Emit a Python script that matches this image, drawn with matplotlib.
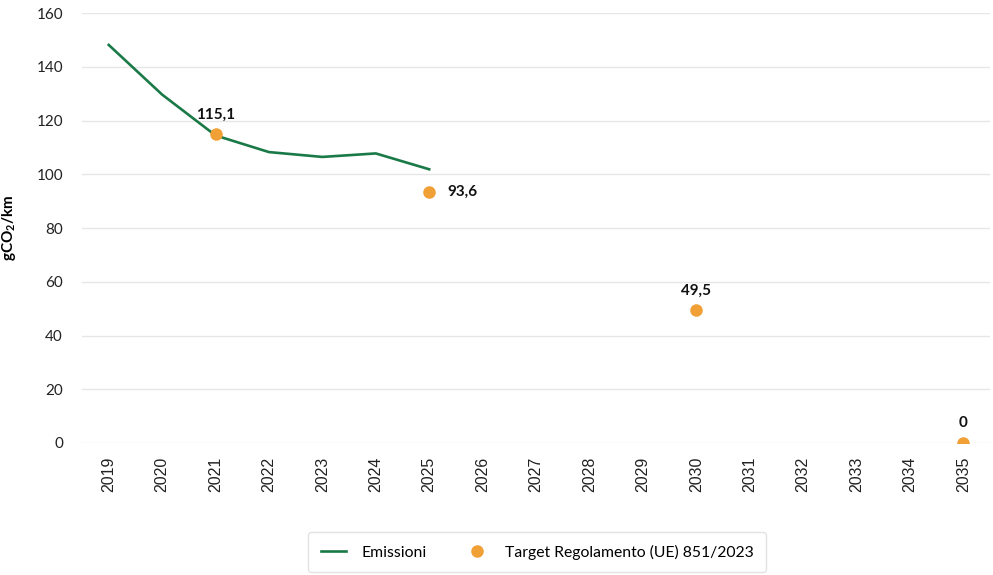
import matplotlib.pyplot as plt
import numpy as np

# Emissions and regulation targets (gCO2/km)
years = list(range(2019, 2036))
emission_years = [2019, 2020, 2021, 2022, 2023, 2024, 2025]
emissions = [148.2, 129.7, 114.5, 108.3, 106.5, 107.8, 101.9]
target_years = [2021, 2025, 2030, 2035]
targets = [115.1, 93.6, 49.5, 0.0]
target_labels = ['115,1', '93,6', '49,5', '0']

green = '#1a7a47'
orange = '#f0a035'

plt.rcParams['font.family'] = ['Lato', 'DejaVu Sans']
plt.rcParams['mathtext.fontset'] = 'custom'
plt.rcParams['mathtext.rm'] = 'Lato:bold'
plt.rcParams['mathtext.it'] = 'Lato:bold'
plt.rcParams['mathtext.bf'] = 'Lato:bold'

fig = plt.figure(figsize=(9.93, 5.75), dpi=100)
ax = fig.add_axes([0.0826, 0.2296, 0.9144, 0.7474])

ax.plot(emission_years, emissions, color=green, lw=1.9, label='Emissioni', zorder=3)
ax.plot(target_years, targets, ls='none', marker='o', ms=8, color=orange,
        label='Target Regolamento (UE) 851/2023', zorder=4)

# value labels next to the target points
offsets = {2021: ((0, 9), 'center', 'bottom'),
           2025: ((13, 0), 'left', 'center'),
           2030: ((0, 9), 'center', 'bottom'),
           2035: ((0, 9), 'center', 'bottom')}
for yr, val, txt in zip(target_years, targets, target_labels):
    off, ha, va = offsets[yr]
    ax.annotate(txt, (yr, val), xytext=off, textcoords='offset points',
                ha=ha, va=va, fontsize=11, fontweight='bold', color='#111111')

ax.set_xlim(2018.5, 2035.5)
ax.set_ylim(0, 160)
ax.set_yticks(np.arange(0, 161, 20))
ax.set_xticks(years)
ax.set_xticklabels([str(y) for y in years], rotation=90,
                   fontfamily='Liberation Sans', fontsize=11.5)
ax.tick_params(axis='y', labelsize=11, colors='#222222', length=0, pad=13.7)
ax.tick_params(axis='x', colors='#222222', length=0, pad=10)

ax.grid(axis='y', color='#e6e6e6', lw=1)
ax.set_axisbelow(True)
for s in ax.spines.values():
    s.set_visible(False)

ax.set_ylabel(r'gCO$_2$/km', fontsize=11, fontweight='bold')
ax.yaxis.set_label_coords(-0.0705, 0.5)

leg = fig.legend(loc='center', bbox_to_anchor=(0.541, 0.04), ncol=2,
                 fontsize=11.3, frameon=True, fancybox=True, handlelength=1.6,
                 columnspacing=2.4, handletextpad=1.0, borderpad=0.8)
leg.get_frame().set_edgecolor('#dddddd')
leg.get_frame().set_linewidth(1)

fig.savefig('out.png', dpi=100)
